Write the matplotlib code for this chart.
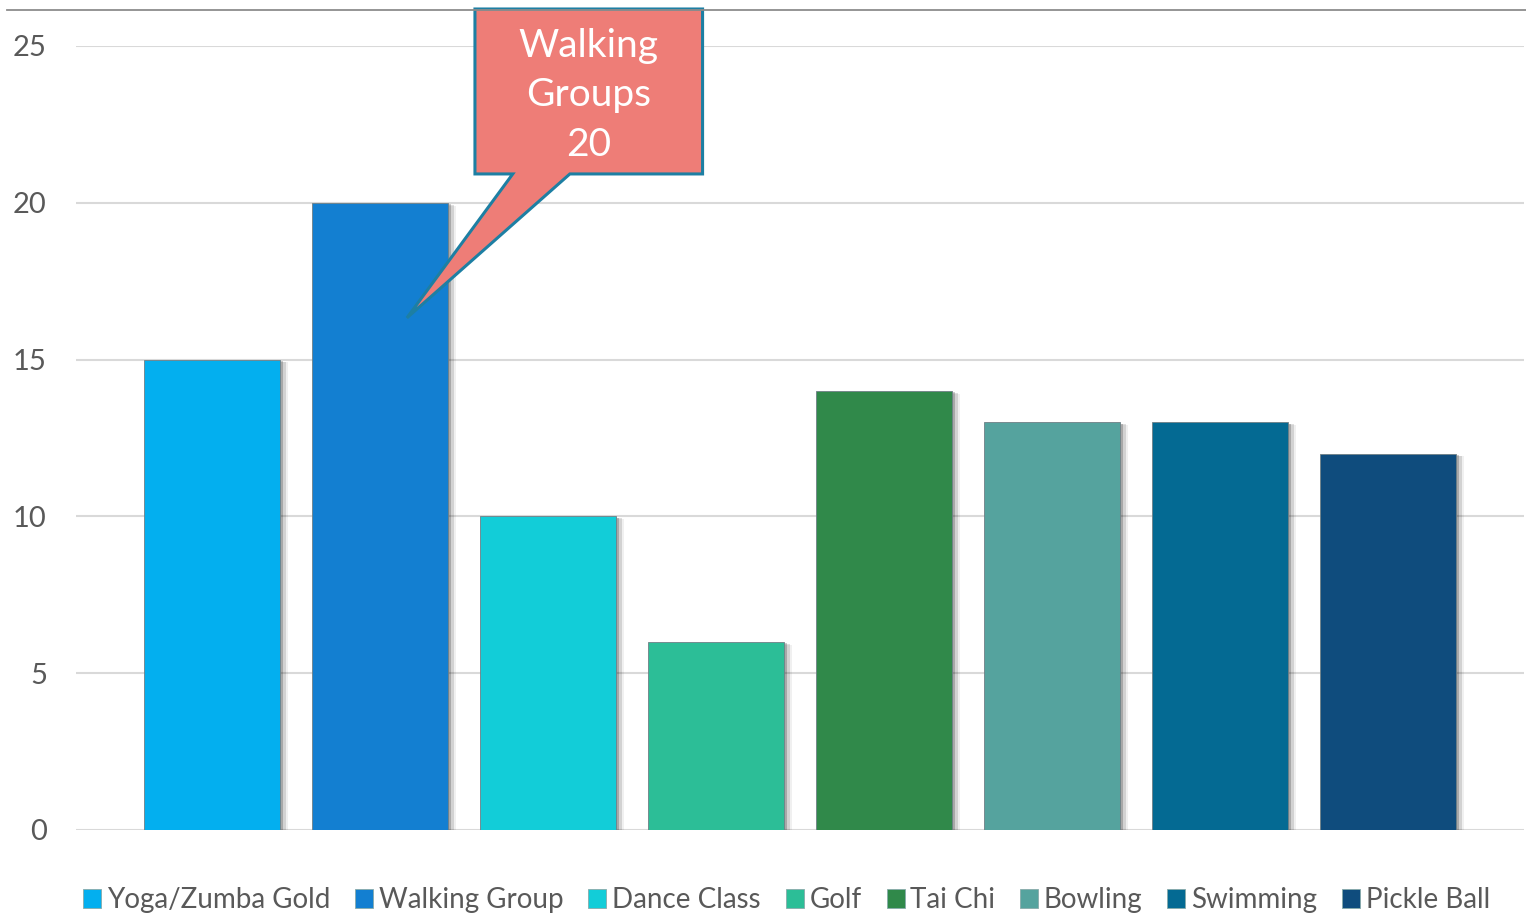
import matplotlib
matplotlib.use('Agg')
import matplotlib.pyplot as plt
import matplotlib.patheffects as pe
from matplotlib.patches import Polygon, Patch
from matplotlib.lines import Line2D

plt.rcParams['font.family'] = ['Lato', 'DejaVu Sans']

activities = ['Yoga/Zumba Gold', 'Walking Group', 'Dance Class', 'Golf',
              'Tai Chi', 'Bowling', 'Swimming', 'Pickle Ball']
members = [15, 20, 10, 6, 14, 13, 13, 12]
colors = ['#03AFEF', '#137FD1', '#12CDD8', '#2CBE97',
          '#30894A', '#55A39E', '#046A93', '#0F4C7D']
callout_text = 'Walking\nGroups\n20'
callout_idx = 1

fig = plt.figure(figsize=(15.26, 9.15), dpi=100)
ax = fig.add_axes([76 / 1526, 85 / 915, 1448 / 1526, 784 / 915])

x = list(range(len(activities)))
# soft shadow on the right of every bar
shadow = [pe.SimplePatchShadow(offset=(2, -1), shadow_rgbFace='black', alpha=0.2),
          pe.SimplePatchShadow(offset=(4, -1.5), shadow_rgbFace='black', alpha=0.12),
          pe.SimplePatchShadow(offset=(6, -2), shadow_rgbFace='black', alpha=0.06),
          pe.Normal()]
bars = ax.bar(x, members, width=0.81, color=colors, edgecolor='#6f7f86',
              linewidth=0.6, zorder=3)
for b in bars:
    b.set_path_effects(shadow)

ax.set_xlim(-0.81, 7.81)
ax.set_ylim(0, 25)
ax.set_yticks([0, 5, 10, 15, 20, 25])
ax.set_xticks([])
ax.grid(axis='y', color='#D9D9D9', linewidth=1.5, zorder=0)
ax.set_axisbelow(True)
for s in ax.spines.values():
    s.set_visible(False)
ax.tick_params(axis='y', length=0, pad=21, labelsize=21, labelcolor='#595959')

# line across the top of the chart area
fig.add_artist(Line2D([7 / 1526, 1], [905 / 915, 905 / 915], color='#8C8C8C', lw=1.3))

# callout pointing into the tallest bar
bx = x[callout_idx]
val = members[callout_idx]
x0, x1 = bx + 1.0 / 1.77, bx + 1.92
y0, y1 = val + 0.92, val + 6.18
tip = (bx + 0.16, val - 3.67)
shape = [(x0, y1), (x1, y1), (x1, y0), (bx + 1.13, y0), tip, (bx + 0.79, y0), (x0, y0)]
ax.add_patch(Polygon(shape, closed=True, facecolor='#EE7D77', edgecolor='#1D7FA3',
                     linewidth=2.2, zorder=5, clip_on=False, joinstyle='miter'))
ax.text((x0 + x1) / 2, (y0 + y1) / 2 - 0.12, callout_text, ha='center', va='center',
        color='white', fontsize=28, linespacing=1.46, zorder=6)

handles = [Patch(facecolor=c, edgecolor='#8aa', linewidth=0.6) for c in colors]
fig.legend(handles, activities, loc='center', bbox_to_anchor=(0.5154, 15 / 915),
           ncol=8, frameon=False, fontsize=20, labelcolor='#595959',
           handlelength=0.65, handleheight=0.65, handletextpad=0.2, columnspacing=0.9)

fig.savefig('out.png', dpi=100)
